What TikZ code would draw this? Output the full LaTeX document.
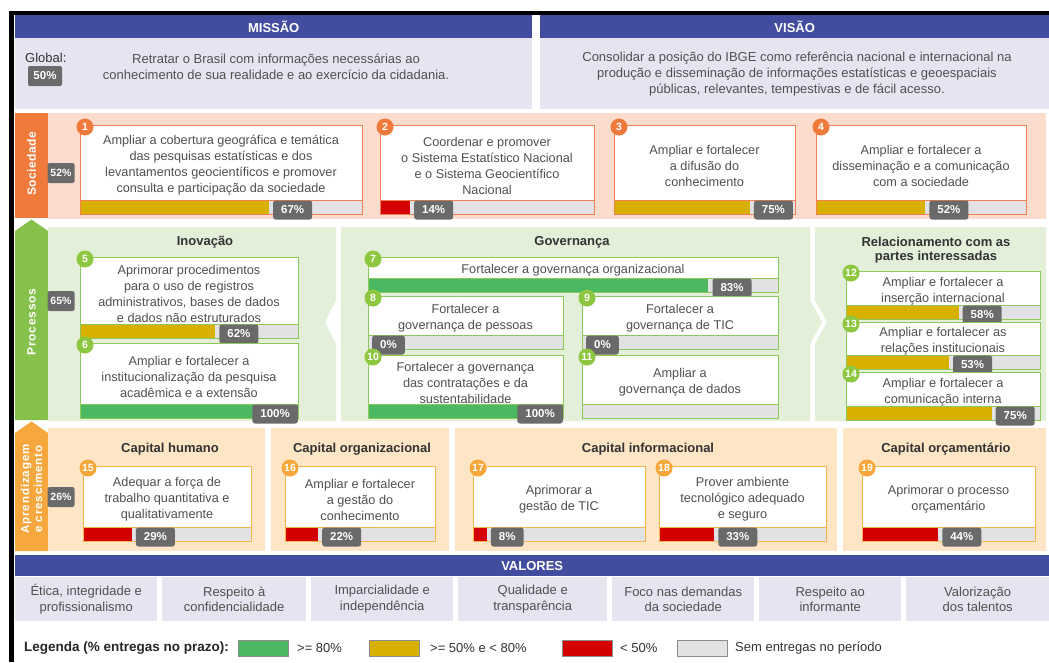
\documentclass[tikz,border=0pt]{standalone}
\usepackage{fontspec}
\setmainfont{Liberation Sans}
\definecolor{hdr}{HTML}{434DA0}
\definecolor{lav}{HTML}{E4E5F1}
\definecolor{socside}{HTML}{F07A3C}
\definecolor{socbg}{HTML}{FCDCCC}
\definecolor{socline}{HTML}{F08050}
\definecolor{socnum}{HTML}{F07A3C}
\definecolor{proside}{HTML}{85C14B}
\definecolor{probg}{HTML}{E3EFD9}
\definecolor{proline}{HTML}{8DC95A}
\definecolor{pronum}{HTML}{8DC63F}
\definecolor{apside}{HTML}{F6A83E}
\definecolor{apbg}{HTML}{FDE5C6}
\definecolor{apline}{HTML}{F8B54C}
\definecolor{apnum}{HTML}{F7A73A}
\definecolor{fy}{HTML}{D8B000}
\definecolor{fg}{HTML}{4CB962}
\definecolor{fr}{HTML}{D40000}
\definecolor{fe}{HTML}{E2E2E4}
\definecolor{lbl}{HTML}{6A6A6A}
\definecolor{txt}{HTML}{505050}
\definecolor{ttl}{HTML}{333333}
\tikzset{
  objbox/.style={rectangle, fill=white, inner sep=0pt},
  objtext/.style={align=center, text=txt, font=\fontsize{12.7}{16}\selectfont, inner sep=0pt},
  numc/.style={circle, inner sep=0pt, minimum size=17pt, text=white, font=\fontsize{10.5}{10.5}\selectfont\bfseries},
  pctlbl/.style={rectangle, rounded corners=2.5pt, fill=lbl, text=white, font=\fontsize{11.5}{11.5}\selectfont\bfseries, inner xsep=8pt, inner ysep=0pt, minimum height=19pt},
  sidepct/.style={rectangle, rounded corners=2pt, fill=lbl, text=white, font=\fontsize{10.5}{10.5}\selectfont\bfseries, inner sep=0pt, minimum width=27pt, minimum height=20pt},
  hdrbox/.style={rectangle, fill=hdr, text=white, font=\fontsize{13}{13}\selectfont\bfseries, inner sep=0pt, anchor=north west},
  lavbox/.style={rectangle, fill=lav, inner sep=0pt, anchor=north west},
  bodytxt/.style={align=center, text=txt, font=\fontsize{13}{16}\selectfont, inner sep=0pt},
  sectitle/.style={align=center, text=ttl, font=\fontsize{13}{13.5}\selectfont\bfseries, inner sep=0pt},
  sidetxt/.style={align=center, text=white, font=\fontsize{12}{13}\selectfont\bfseries, inner sep=0pt, rotate=90},
  valtxt/.style={align=center, text=txt, font=\fontsize{13}{15.5}\selectfont, inner sep=0pt},
  swatch/.style={rectangle, draw=black!45, line width=0.6pt, inner sep=0pt, minimum width=50pt, minimum height=16pt},
  legtxt/.style={anchor=west, text=ttl, font=\fontsize{13}{13}\selectfont, inner sep=0pt}
}
% #1 id, #2 x0, #3 y0, #4 x1, #5 y1, #6 fill colour, #7 pct (-1 none), #8 text, #9 colour prefix
\newcommand{\obj}[9]{%
  \pgfmathsetmacro\ow{#4-#2}%
  \pgfmathsetmacro\oh{#5-#3}%
  \pgfmathsetmacro\bt{#5-14}%
  \node[objbox, minimum width=\ow pt, minimum height=\oh pt, anchor=north west] (o#1) at (#2,#3) {};
  \fill[fe] (#2,\bt) rectangle (#4,#5);
  \ifnum#7>0
    \pgfmathsetmacro\fend{#2+\ow/100*#7}%
    \fill[#6] (#2,\bt) rectangle (\fend,#5);
  \fi
  \draw[#9line, line width=1pt] (o#1.north west) rectangle (o#1.south east);
  \draw[#9line, line width=0.8pt] (#2,\bt) -- (#4,\bt);
  \node[objtext] (o#1t) at ({(#2+#4)/2},{(#3+\bt)/2+3}) {#8};
  \node[numc, fill=#9num] (o#1n) at ({#2+5},{#3+2}) {#1};
  \ifnum#7<0 \else
    \ifnum#7=100
      \node[pctlbl, anchor=east] (o#1p) at (#4,{#5-4}) {#7\%};
    \else
      \pgfmathsetmacro\fend{#2+\ow/100*#7+4}%
      \node[pctlbl, anchor=west] (o#1p) at (\fend,{#5-4}) {#7\%};
    \fi
  \fi
}
\begin{document}
\begin{tikzpicture}[x=1pt,y=-1pt]
\useasboundingbox (0,0) rectangle (1049,662);
% frame
\fill[black] (9,11) rectangle (1049,662);
\fill[white] (14,15) rectangle (1049,662);
% mission / vision
\node[hdrbox, minimum width=517pt, minimum height=23pt] (mh) at (15,15) {MISSÃO};
\node[lavbox, minimum width=517pt, minimum height=71pt] (mb) at (15,38) {};
\node[hdrbox, minimum width=509pt, minimum height=23pt] (vh) at (540,15) {VISÃO};
\node[lavbox, minimum width=509pt, minimum height=71pt] (vb) at (540,38) {};
\node[anchor=west, text=ttl, font=\fontsize{13}{13}\selectfont, inner sep=0pt] (glob) at (25,58) {Global:};
\node[sidepct, minimum width=34pt, font=\fontsize{11.5}{11.5}\selectfont\bfseries] (globp) at (45,76) {50\%};
\node[bodytxt] (mtxt) at (276,66.5) {Retratar o Brasil com informações necessárias ao\\conhecimento de sua realidade e ao exercício da cidadania.};
\node[bodytxt] (vtxt) at (797,74) {Consolidar a posição do IBGE como referência nacional e internacional na\\produção e disseminação de informações estatísticas e geoespaciais\\públicas, relevantes, tempestivas e de fácil acesso.};
% Sociedade
\fill[socbg] (48,113) rectangle (1046,219);
\fill[socside] (15,113) rectangle (48,218);
\node[sidetxt, font=\fontsize{12}{13}\selectfont\bfseries\addfontfeature{LetterSpace=4}] (sside) at (31.5,164) {Sociedade};
\node[sidepct] (spct) at (61,173) {52\%};
\obj{1}{80}{125}{362}{214}{fy}{67}{Ampliar a cobertura geográfica e temática\\das pesquisas estatísticas e dos\\levantamentos geocientíficos e promover\\consulta e participação da sociedade}{soc}
\obj{2}{380}{125}{594}{214}{fr}{14}{Coordenar e promover\\o Sistema Estatístico Nacional\\e o Sistema Geocientífico\\Nacional}{soc}
\obj{3}{614}{125}{795}{214}{fy}{75}{Ampliar e fortalecer\\a difusão do\\conhecimento}{soc}
\obj{4}{816}{125}{1026}{214}{fy}{52}{Ampliar e fortalecer a\\disseminação e a comunicação\\com a sociedade}{soc}
% Processos
\fill[proside] (15,231) -- (31.5,219.5) -- (48,231) -- (48,420) -- (15,420) -- cycle;
\fill[probg] (48,227) -- (336,227) -- (336,300) -- (325,322) -- (336,344) -- (336,421) -- (48,421) -- cycle;
\fill[probg] (341,227) -- (810,227) -- (810,300) -- (822,322) -- (810,344) -- (810,421) -- (341,421) -- cycle;
\fill[probg] (815,227) -- (1046,227) -- (1046,421) -- (815,421) -- (815,344) -- (827,322) -- (815,300) -- cycle;
\node[sidetxt, font=\fontsize{12}{13}\selectfont\bfseries\addfontfeature{LetterSpace=6}] (pside) at (31.5,322) {Processos};
\node[sidepct] (ppct) at (61,301) {65\%};
\node[sectitle] (tinov) at (205,242) {Inovação};
\node[sectitle] (tgov) at (572,242) {Governança};
\node[sectitle] (trel) at (936,250) {Relacionamento com as\\partes interessadas};
\obj{5}{80}{257}{298}{338}{fy}{62}{Aprimorar procedimentos\\para o uso de registros\\administrativos, bases de dados\\e dados não estruturados}{pro}
\obj{6}{80}{343}{298}{418}{fg}{100}{Ampliar e fortalecer a\\institucionalização da pesquisa\\acadêmica e a extensão}{pro}
\obj{7}{368}{257}{778}{292}{fg}{83}{Fortalecer a governança organizacional}{pro}
\obj{8}{368}{296}{563}{349}{fe}{0}{Fortalecer a\\governança de pessoas}{pro}
\obj{9}{582}{296}{778}{349}{fe}{0}{Fortalecer a\\governança de TIC}{pro}
\obj{10}{368}{355}{563}{418}{fg}{100}{Fortalecer a governança\\das contratações e da\\sustentabilidade}{pro}
\obj{11}{582}{355}{778}{418}{fe}{-1}{Ampliar a\\governança de dados}{pro}
\obj{12}{846}{271}{1040}{319}{fy}{58}{Ampliar e fortalecer a\\inserção internacional}{pro}
\obj{13}{846}{322}{1040}{369}{fy}{53}{Ampliar e fortalecer as\\relações institucionais}{pro}
\obj{14}{846}{372}{1040}{420}{fy}{75}{Ampliar e fortalecer a\\comunicação interna}{pro}
% Aprendizagem
\fill[apside] (15,433) -- (31.5,421.5) -- (48,433) -- (48,551) -- (15,551) -- cycle;
\fill[apbg] (48,428) rectangle (265,551);
\fill[apbg] (271,428) rectangle (449,551);
\fill[apbg] (455,428) rectangle (837,551);
\fill[apbg] (843,428) rectangle (1046,551);
\node[sidetxt, font=\fontsize{11.5}{13}\selectfont\bfseries\addfontfeature{LetterSpace=8}] (aside) at (31.5,489) {Aprendizagem\\e crescimento};
\node[sidepct] (apct) at (61,497) {26\%};
\node[sectitle] (tch) at (170,449) {Capital humano};
\node[sectitle] (tco) at (362,449) {Capital organizacional};
\node[sectitle] (tci) at (648,449) {Capital informacional};
\node[sectitle] (tcoe) at (946,449) {Capital orçamentário};
\obj{15}{83}{466}{251}{541}{fr}{29}{Adequar a força de\\trabalho quantitativa e\\qualitativamente}{ap}
\obj{16}{285}{466}{435}{541}{fr}{22}{Ampliar e fortalecer\\a gestão do\\conhecimento}{ap}
\obj{17}{473}{466}{645}{541}{fr}{8}{Aprimorar a\\gestão de TIC}{ap}
\obj{18}{659}{466}{826}{541}{fr}{33}{Prover ambiente\\tecnológico adequado\\e seguro}{ap}
\obj{19}{862}{466}{1035}{541}{fr}{44}{Aprimorar o processo\\orçamentário}{ap}
% Valores
\node[hdrbox, minimum width=1034pt, minimum height=21pt] (valh) at (15,555) {VALORES};
\node[lavbox, minimum width=142pt, minimum height=44pt] (v1) at (15,577) {};
\node[lavbox, minimum width=144pt, minimum height=44pt] (v2) at (162,577) {};
\node[lavbox, minimum width=142pt, minimum height=44pt] (v3) at (311,577) {};
\node[lavbox, minimum width=149pt, minimum height=44pt] (v4) at (458,577) {};
\node[lavbox, minimum width=142pt, minimum height=44pt] (v5) at (612,577) {};
\node[lavbox, minimum width=142pt, minimum height=44pt] (v6) at (759,577) {};
\node[lavbox, minimum width=143pt, minimum height=44pt] (v7) at (906,577) {};
\node[valtxt] at (v1.center) {Ética, integridade e\\profissionalismo};
\node[valtxt] at (v2.center) {Respeito à\\confidencialidade};
\node[valtxt] at (v3.center) {Imparcialidade e\\independência};
\node[valtxt] at (v4.center) {Qualidade e\\transparência};
\node[valtxt] at (v5.center) {Foco nas demandas\\da sociedade};
\node[valtxt] at (v6.center) {Respeito ao\\informante};
\node[valtxt] at (v7.center) {Valorização\\dos talentos};
% Legend
\node[legtxt, font=\fontsize{13.5}{13.5}\selectfont\bfseries, text=black!85] (leg) at (24,648) {Legenda (\% entregas no prazo):};
\node[swatch, fill=fg] (sw1) at (263,648) {};
\node[legtxt] (lt1) at (297,648) {>= 80\%};
\node[swatch, fill=fy] (sw2) at (394,648) {};
\node[legtxt] (lt2) at (430,648) {>= 50\% e < 80\%};
\node[swatch, fill=fr] (sw3) at (587,648) {};
\node[legtxt] (lt3) at (620,648) {< 50\%};
\node[swatch, fill=fe] (sw4) at (702,648) {};
\node[legtxt] (lt4) at (735,648) {Sem entregas no período};
\end{tikzpicture}
\end{document}
